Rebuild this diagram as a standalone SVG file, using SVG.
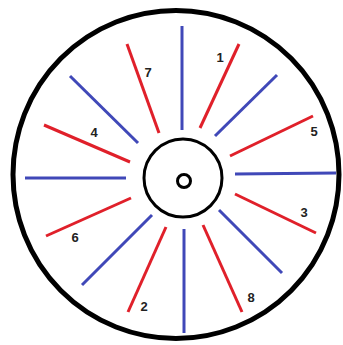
<svg xmlns="http://www.w3.org/2000/svg" width="343" height="345" viewBox="0 0 343 345">
<style>
.c{fill:none;stroke:#000;}
.r{stroke:#e0202a;stroke-width:3;stroke-linecap:butt;}
.b{stroke:#4048b8;stroke-width:3;stroke-linecap:butt;}
.t{font-family:"Liberation Sans",Arial,sans-serif;font-size:13px;font-weight:bold;fill:#222;text-anchor:middle;dominant-baseline:central;}
</style>
<rect width="343" height="345" fill="#fff"/>
<g id="outer"><ellipse class="c" cx="176" cy="174.5" rx="163" ry="164" stroke-width="5"/></g>
<g id="hub"><circle class="c" cx="183" cy="178" r="39" stroke-width="3"/><circle class="c" cx="184" cy="181" r="6.5" stroke-width="3"/></g>
<g id="connectors">
<line class="b" x1="182" y1="26" x2="182" y2="130"/>
<line class="b" x1="70" y1="76" x2="138" y2="143"/>
<line class="b" x1="277" y1="75" x2="215" y2="136"/>
<line class="b" x1="25" y1="178" x2="126" y2="178"/>
<line class="b" x1="235" y1="174" x2="336" y2="173"/>
<line class="b" x1="152" y1="215" x2="82" y2="285"/>
<line class="b" x1="184" y1="229" x2="184" y2="333"/>
<line class="b" x1="219" y1="210" x2="282" y2="273"/>
<line class="r" x1="127" y1="44" x2="159" y2="133"/>
<line class="r" x1="239" y1="44" x2="200" y2="128"/>
<line class="r" x1="313" y1="116" x2="230" y2="156"/>
<line class="r" x1="44" y1="125" x2="130" y2="162"/>
<line class="r" x1="235" y1="194" x2="316" y2="233"/>
<line class="r" x1="131" y1="198" x2="46" y2="236"/>
<line class="r" x1="166" y1="227" x2="128" y2="312"/>
<line class="r" x1="203" y1="225" x2="242" y2="312"/>
</g>
<g id="labels">
<text class="t" x="148" y="72">7</text>
<text class="t" x="220" y="57">1</text>
<text class="t" x="94" y="132">4</text>
<text class="t" x="314" y="131">5</text>
<text class="t" x="304" y="212">3</text>
<text class="t" x="75" y="237">6</text>
<text class="t" x="144" y="306">2</text>
<text class="t" x="251" y="297">8</text>
</g>
</svg>
